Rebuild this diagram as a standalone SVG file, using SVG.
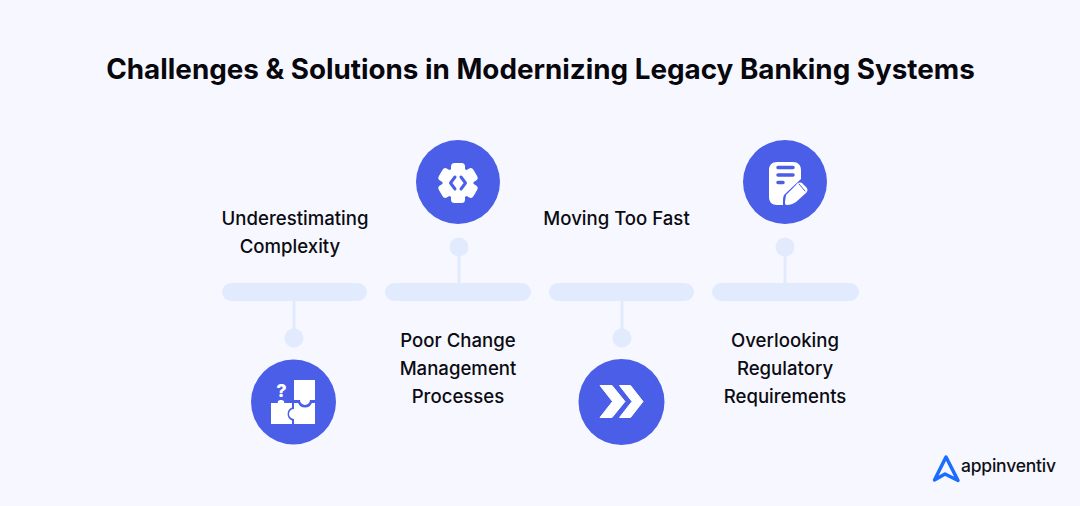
<svg xmlns="http://www.w3.org/2000/svg" width="1080" height="506" viewBox="0 0 1080 506">
<defs><style>
.t{font-family:"Inter","Liberation Sans",sans-serif;font-weight:500;font-size:18.6px;fill:#0b0b12;text-anchor:middle}
.h{font-family:"Inter","Liberation Sans",sans-serif;font-weight:700;font-size:27.8px;fill:#07070d;text-anchor:middle}
.bar{fill:#e2eafd}.c{fill:#4a5ee8}.w{fill:#fff}
.ln{stroke:#e2eafd;stroke-width:3;fill:none}
.d{stroke:#4a5ee8;fill:none;stroke-linecap:round;stroke-linejoin:round}
</style></defs>
<rect width="1080" height="506" fill="#f7f8ff"/>
<text class="h" x="540.500" y="78.500">Challenges &amp; Solutions in Modernizing Legacy Banking Systems</text>
<g id="connectors">
<path class="ln" d="M294 300V330M459 250V284M622 300V330M785 250V284"/>
</g>
<g id="node1">
<rect class="bar" x="222" y="283" width="145" height="18" rx="9"/>
<circle class="bar" cx="294" cy="338" r="9.500"/>
<circle class="c" cx="293.500" cy="402" r="42.500"/>
<path class="w" d="M294 380H315V400H310A5 5 0 0 1 300 400H294Z"/>
<path class="w" d="M271 403H278C276 399 286 399 284 403H292V407.500A7 7 0 0 0 292 420.500V424H271Z"/>
<path class="w" d="M294 403H298.100A7.500 7.500 0 0 0 311.900 403H315V424H294V419A5 5 0 0 1 294 409Z"/>
<text x="281.500" y="397" font-family="Inter,sans-serif" font-weight="800" font-size="18" fill="#fff" text-anchor="middle">?</text>
<text class="t"><tspan x="295" y="225">Underestimating</tspan><tspan x="290" y="253">Complexity</tspan></text>
</g>
<g id="node2">
<rect class="bar" x="385" y="283" width="146" height="18" rx="9"/>
<circle class="bar" cx="459" cy="247" r="9.500"/>
<circle class="c" cx="458" cy="182" r="42"/>
<g class="w">
<circle cx="458" cy="183" r="15.500"/>
<rect x="451" y="163" width="14" height="40" rx="3.500"/>
<rect x="451" y="163" width="14" height="40" rx="3.500" transform="rotate(60 458 183)"/>
<rect x="451" y="163" width="14" height="40" rx="3.500" transform="rotate(120 458 183)"/>
</g>
<path class="d" stroke-width="3" d="M455 177L450.500 183L455 189M461 177L465.500 183L461 189"/>
<text class="t"><tspan x="458" y="347">Poor Change</tspan><tspan x="458" y="375">Management</tspan><tspan x="458" y="403">Processes</tspan></text>
</g>
<g id="node3">
<rect class="bar" x="549" y="283" width="145" height="18" rx="9"/>
<circle class="bar" cx="622" cy="338" r="9.500"/>
<circle class="c" cx="621.500" cy="402" r="43"/>
<path class="w" stroke="#fff" stroke-width="1" stroke-linejoin="round" d="M600 385.500H612L625 401.500L612 417.500H600L612.500 401.500Z"/>
<path class="w" stroke="#fff" stroke-width="1" stroke-linejoin="round" d="M619.500 385.500H630.500L643 401.500L630.500 417.500H619.500L632 401.500Z"/>
<text class="t" x="616.500" y="225">Moving Too Fast</text>
</g>
<g id="node4">
<rect class="bar" x="712" y="283" width="147" height="18" rx="9"/>
<circle class="bar" cx="785" cy="247" r="9.500"/>
<circle class="c" cx="785" cy="182" r="42"/>
<path class="w" d="M777 162H793C798 162 801 165 801 170V179L785 194C783 196 783 198 783 205H777C772 205 769 202 769 197V170C769 165 772 162 777 162Z"/>
<path class="d" stroke-width="3.500" d="M778 167.500H793M778 175H793M778 182.500H783"/>
<path class="w" d="M786 195L796 185C798 182 801 182 803 184L806 187C808 189 808 191 806 193L796 202C793 204 790 205 787 205C785 205 785 204 785 202Z"/>
<path class="d" stroke-width="1" d="M799 184L805 191"/>
<text class="t"><tspan x="785" y="347">Overlooking</tspan><tspan x="785" y="375">Regulatory</tspan><tspan x="785" y="403">Requirements</tspan></text>
</g>
<g id="logo">
<path d="M934.500 480L946 457L958 480.500L945 474Z" fill="none" stroke="#1b6dff" stroke-width="3.500" stroke-linejoin="round" stroke-linecap="round"/>
<text x="961" y="472" textLength="95" lengthAdjust="spacing" font-family="Inter,sans-serif" font-size="17.500" font-weight="500" fill="#101018">appinventiv</text>
</g>
</svg>
